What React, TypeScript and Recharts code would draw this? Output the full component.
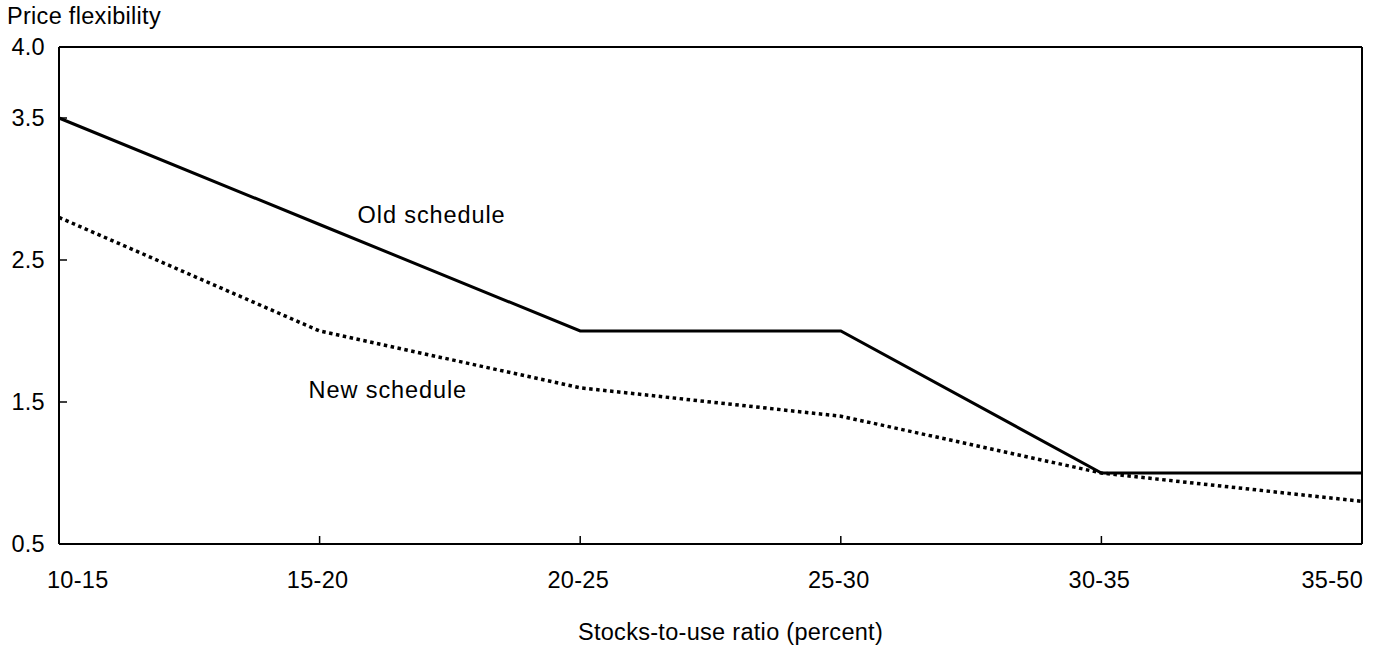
import React from 'react';
import { LineChart, Line, XAxis, YAxis, ReferenceLine, LabelList, Label } from 'recharts';

const ratioBands = ['10-15', '15-20', '20-25', '25-30', '30-35', '35-50'];
const oldSchedule = [3.5, 2.75, 2.0, 2.0, 1.0, 1.0];
const newSchedule = [2.8, 2.0, 1.6, 1.4, 1.0, 0.8];
const yTicks = [0.5, 1.5, 2.5, 3.5, 4.0];

const data = ratioBands.map((band, i) => ({
    band,
    oldSchedule: oldSchedule[i],
    newSchedule: newSchedule[i],
}));

if (typeof document !== 'undefined') {
    document.body.style.margin = '0';
}

const FONT = '"Liberation Sans", Arial, Helvetica, sans-serif';
const FONT_SIZE = 23.5;

function BandTick(props: any) {
    const { x, y, payload, index } = props;
    const last = index === ratioBands.length - 1;
    let anchor: 'start' | 'middle' | 'end' = 'middle';
    let tx = x - 2;
    if (index === 0) {
        anchor = 'start';
        tx = x - 12;
    } else if (last) {
        anchor = 'end';
        tx = x + 1;
    }
    return (
        <text x={tx} y={y} textAnchor={anchor} fill="#000" fontSize={FONT_SIZE}>
            {payload.value}
        </text>
    );
}

// series name written next to the 15-20 point
const seriesNote = (text: string, dx: number, dy: number) => (props: any) => {
    if (props.index !== 1) return null;
    return (
        <text x={props.x + dx} y={props.y + dy} fill="#000" fontSize={FONT_SIZE} letterSpacing={0.9}>
            {text}
        </text>
    );
};

export default function App() {
    return (
        <div style={{ position: 'relative', width: 1377, height: 647, fontFamily: FONT, letterSpacing: 0.3 }}>
            <div style={{ position: 'absolute', left: 7, top: 5, fontSize: FONT_SIZE, lineHeight: '23px', color: '#000' }}>
                Price flexibility
            </div>
            <LineChart
                width={1377}
                height={647}
                data={data}
                margin={{ top: 47, right: 15, left: 0, bottom: 0 }}
                style={{ fontFamily: FONT }}
            >
                <XAxis
                    dataKey="band"
                    height={103}
                    axisLine={{ stroke: '#000', strokeWidth: 2 }}
                    tickLine={{ stroke: '#000', strokeWidth: 1.5 }}
                    tickSize={-8}
                    tickMargin={52}
                    interval={0}
                    tick={<BandTick />}
                >
                    <Label
                        value="Stocks-to-use ratio (percent)"
                        position="insideBottom"
                        offset={7}
                        dx={20}
                        fill="#000"
                        fontSize={FONT_SIZE}
                    />
                </XAxis>
                <YAxis
                    width={59}
                    domain={[0.5, 4]}
                    ticks={yTicks}
                    interval={0}
                    tickFormatter={(v: number) => v.toFixed(1)}
                    axisLine={{ stroke: '#000', strokeWidth: 2 }}
                    tickLine={{ stroke: '#000', strokeWidth: 1.5 }}
                    tickSize={-8}
                    tickMargin={22}
                    tick={{ fill: '#000', fontSize: FONT_SIZE }}
                />
                <ReferenceLine y={4} stroke="#000" strokeWidth={2} />
                <ReferenceLine x="35-50" stroke="#000" strokeWidth={2} />
                <Line
                    type="linear"
                    dataKey="newSchedule"
                    stroke="#000"
                    strokeWidth={3.5}
                    strokeDasharray="3.5 3.5"
                    dot={false}
                    isAnimationActive={false}
                >
                    <LabelList content={seriesNote('New schedule', -11, 67)} />
                </Line>
                <Line
                    type="linear"
                    dataKey="oldSchedule"
                    stroke="#000"
                    strokeWidth={3}
                    dot={false}
                    isAnimationActive={false}
                >
                    <LabelList content={seriesNote('Old schedule', 38, -2)} />
                </Line>
            </LineChart>
        </div>
    );
}
